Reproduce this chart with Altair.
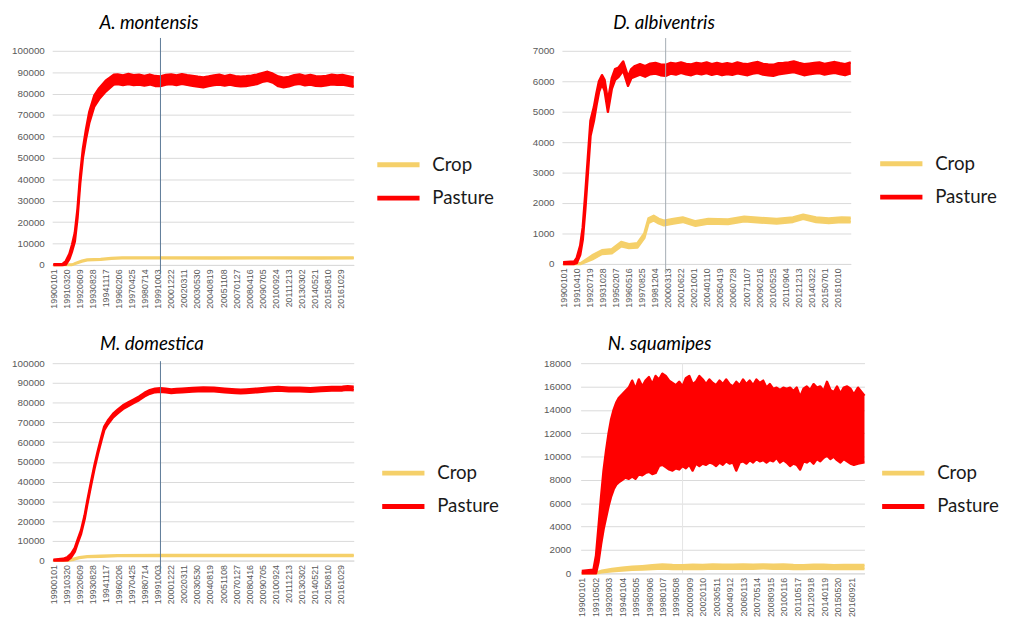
import altair as alt
import pandas as pd

RED = "#ff0000"
YELLOW = "#f5d06a"
SERIES = ["Crop", "Pasture"]
X_START = "1989-11-20"
X_END = "2018-01-20"
MARKER_DATE = "2000-01-01"

# ---------------- A. montensis ----------------
P1_TITLE = "A. montensis"
P1_TICKS = ["19900101", "19910320", "19920609", "19930828", "19941117", "19960206", "19970425",
            "19980714", "19991003", "20001222", "20020311", "20030530", "20040819", "20051108",
            "20070127", "20080416", "20090705", "20100924", "20111213", "20130302", "20140521",
            "20150810", "20161029"]
P1_YTICKS = [0, 10000, 20000, 30000, 40000, 50000, 60000, 70000, 80000, 90000, 100000]
P1_PAST_DATES = ["1990-01-01", "1990-11-01", "1991-03-01", "1991-07-01", "1991-10-01", "1992-01-01",
                 "1992-04-01", "1992-07-01", "1992-10-01", "1993-01-15", "1993-05-10", "1993-10-24",
                 "1994-04-09", "1994-11-19", "1995-08-25", "1996-01-01", "1996-07-01", "1997-01-01",
                 "1997-07-01", "1998-01-01", "1998-07-01", "1999-01-01", "1999-07-01", "2000-01-01",
                 "2000-07-01", "2001-01-01", "2001-07-01", "2002-01-01", "2002-07-01", "2003-01-01",
                 "2003-07-01", "2004-01-01", "2004-07-01", "2005-01-01", "2005-07-01", "2006-01-01",
                 "2006-07-01", "2007-01-01", "2007-07-01", "2008-01-01", "2008-07-01", "2009-01-01",
                 "2009-07-01", "2010-01-01", "2010-07-01", "2011-01-01", "2011-07-01", "2012-01-01",
                 "2012-07-01", "2013-01-01", "2013-07-01", "2014-01-01", "2014-07-01", "2015-01-01",
                 "2015-07-01", "2016-01-01", "2016-07-01", "2017-01-01", "2017-07-01", "2018-01-20"]
P1_PAST_LO = [0, 0, 200, 2800, 6500, 11000, 22000, 38000, 50000, 58800, 66500, 74000, 77500, 81000,
              84300, 84500, 84000, 84500, 84000, 84200, 83800, 84300, 83600, 83500, 84200, 84500,
              84000, 84600, 84100, 83700, 83300, 83000, 83600, 84000, 84300, 83800, 84200, 83700,
              83400, 83600, 84000, 84500, 85500, 86000, 85200, 83500, 83000, 83400, 84200, 84600,
              83900, 84300, 83700, 83500, 83900, 84400, 84100, 84300, 83800, 83200]
P1_PAST_HI = [300, 400, 1800, 5200, 9500, 15000, 26000, 42000, 54000, 63200, 71500, 79000, 82500,
              86000, 88800, 89000, 88500, 89200, 88600, 88800, 88300, 88900, 88200, 88000, 88700,
              89000, 88500, 89100, 88600, 88300, 87900, 87600, 88000, 88500, 88800, 88200, 88700,
              88100, 87900, 88100, 88400, 88900, 89600, 90200, 89300, 88000, 87400, 87800, 88600,
              89000, 88300, 88700, 88100, 88000, 88300, 88800, 88500, 88700, 88200, 87600]
P1_CROP_DATES = ["1990-01-01", "1991-10-01", "1992-03-01", "1992-09-01", "1993-03-01", "1994-06-01",
                 "1995-06-01", "1996-06-01", "2000-01-01", "2005-01-01", "2010-01-01", "2015-01-01",
                 "2018-01-20"]
P1_CROP_LO = [0, 0, 700, 1600, 2200, 2400, 2900, 3100, 3100, 3050, 3100, 3050, 3100]
P1_CROP_HI = [0, 200, 1100, 2000, 2600, 2800, 3300, 3500, 3500, 3450, 3500, 3450, 3500]
P1_MARKER = [-4500, 106000]

# ---------------- D. albiventris ----------------
P2_TITLE = "D. albiventris"
P2_TICKS = ["19900101", "19910410", "19920719", "19931028", "19950207", "19960516", "19970825",
            "19981204", "20000313", "20010622", "20021001", "20040110", "20050419", "20060728",
            "20071107", "20090216", "20100525", "20110904", "20121213", "20140322", "20150701",
            "20161010"]
P2_YTICKS = [0, 1000, 2000, 3000, 4000, 5000, 6000, 7000]
P2_PAST_DATES = ["1990-01-01", "1991-02-01", "1991-05-01", "1991-09-01", "1991-12-01", "1992-03-01",
                 "1992-06-01", "1992-09-01", "1993-01-01", "1993-04-01", "1993-07-01", "1993-10-15",
                 "1994-01-15", "1994-05-15", "1994-10-01", "1995-01-25", "1995-06-01", "1995-11-10",
                 "1996-05-01", "1996-08-25", "1997-01-01", "1997-07-01", "1998-01-01", "1998-07-01",
                 "1999-01-01", "1999-07-01", "2000-01-01", "2000-07-01", "2001-01-01", "2001-07-01",
                 "2002-01-01", "2002-07-01", "2003-01-01", "2003-07-01", "2004-01-01", "2004-07-01",
                 "2005-01-01", "2005-07-01", "2006-01-01", "2006-07-01", "2007-01-01", "2007-07-01",
                 "2008-01-01", "2008-07-01", "2009-01-01", "2009-07-01", "2010-01-01", "2010-07-01",
                 "2011-01-01", "2011-07-01", "2012-01-01", "2012-07-01", "2013-01-01", "2013-07-01",
                 "2014-01-01", "2014-07-01", "2015-01-01", "2015-07-01", "2016-01-01", "2016-07-01",
                 "2017-01-01", "2017-07-01", "2018-01-20"]
P2_PAST_LO = [0, 0, 30, 300, 800, 1800, 3000, 4200, 4700, 5200, 5650, 5900, 5700, 5000, 5750, 6050,
              6150, 6350, 5850, 6100, 6150, 6220, 6150, 6230, 6250, 6200, 6180, 6250, 6220, 6280,
              6230, 6200, 6260, 6230, 6270, 6210, 6250, 6200, 6240, 6210, 6260, 6230, 6200, 6250,
              6280, 6220, 6200, 6180, 6230, 6250, 6280, 6300, 6250, 6200, 6230, 6250, 6270, 6220,
              6250, 6280, 6240, 6200, 6260]
P2_PAST_HI = [60, 80, 200, 600, 1200, 2300, 3500, 4700, 5150, 5600, 6000, 6200, 6050, 5350, 6100,
              6400, 6450, 6650, 6150, 6400, 6500, 6560, 6500, 6580, 6600, 6550, 6540, 6600, 6580,
              6620, 6570, 6550, 6600, 6580, 6620, 6560, 6600, 6560, 6590, 6560, 6620, 6580, 6560,
              6600, 6630, 6570, 6550, 6540, 6590, 6600, 6620, 6650, 6600, 6560, 6580, 6600, 6620,
              6570, 6600, 6630, 6590, 6560, 6620]
P2_CROP_DATES = ["1990-01-01", "1991-09-28", "1992-11-01", "1993-10-15", "1994-10-01", "1995-09-01",
                 "1996-06-01", "1997-04-01", "1997-12-01", "1998-05-01", "1998-11-01", "1999-05-01",
                 "1999-11-01", "2000-10-01", "2001-09-01", "2002-12-01", "2004-03-01", "2006-02-01",
                 "2007-09-01", "2009-04-01", "2010-11-01", "2012-06-01", "2013-06-01", "2014-09-01",
                 "2015-12-01", "2017-03-01", "2018-01-20"]
P2_CROP_LO = [0, 0, 150, 330, 350, 580, 520, 540, 850, 1350, 1430, 1330, 1270, 1330, 1380, 1250, 1330,
              1310, 1400, 1360, 1330, 1380, 1480, 1380, 1340, 1380, 1370]
P2_CROP_HI = [0, 30, 280, 450, 480, 720, 650, 680, 1000, 1500, 1580, 1480, 1420, 1480, 1530, 1400,
              1480, 1460, 1550, 1510, 1480, 1530, 1620, 1530, 1490, 1530, 1520]
P2_MARKER = [-330, 7420]

# ---------------- M. domestica ----------------
P3_TITLE = "M. domestica"
P3_TICKS = P1_TICKS
P3_YTICKS = P1_YTICKS
P3_PAST_DATES = ["1990-01-01", "1990-12-01", "1991-05-01", "1991-09-01", "1992-01-01", "1992-04-01",
                 "1992-08-01", "1992-12-01", "1993-03-01", "1993-07-01", "1993-11-01", "1994-03-01",
                 "1994-07-01", "1994-10-01", "1995-02-01", "1995-08-01", "1996-01-01", "1996-07-01",
                 "1997-01-01", "1997-07-01", "1998-01-01", "1998-07-01", "1999-01-01", "1999-07-01",
                 "2000-01-01", "2000-07-01", "2001-01-01", "2001-07-01", "2002-01-01", "2003-01-01",
                 "2004-01-01", "2005-01-01", "2006-01-01", "2007-01-01", "2007-07-01", "2008-01-01",
                 "2009-01-01", "2010-01-01", "2011-01-01", "2012-01-01", "2013-01-01", "2014-01-01",
                 "2015-01-01", "2016-01-01", "2017-01-01", "2017-07-01", "2018-01-20"]
P3_PAST_LO = [0, 0, 200, 1700, 4600, 8600, 13600, 21100, 28400, 37600, 46500, 54100, 61100, 66100,
              69100, 72600, 74600, 76800, 78300, 79800, 81300, 83100, 84500, 85300, 85500, 85200,
              84900, 85100, 85300, 85600, 85900, 85700, 85300, 84900, 84700, 84900, 85300, 85800,
              86100, 85800, 85700, 85500, 85900, 86100, 86200, 86500, 86300]
P3_PAST_HI = [400, 900, 1800, 3500, 6400, 10400, 15400, 22900, 30200, 39400, 48300, 55900, 62900,
              67900, 70900, 74400, 76400, 78600, 80100, 81600, 83100, 84900, 86300, 87100, 87300,
              87000, 86700, 86900, 87100, 87400, 87700, 87500, 87100, 86700, 86500, 86700, 87100,
              87600, 87900, 87600, 87500, 87300, 87700, 87900, 88000, 88300, 88100]
P3_CROP_DATES = ["1990-01-01", "1991-06-01", "1991-12-01", "1992-06-01", "1993-03-01", "1994-06-01",
                 "1996-01-01", "2000-01-01", "2005-01-01", "2010-01-01", "2015-01-01", "2018-01-20"]
P3_CROP_LO = [0, 0, 450, 1250, 1750, 1950, 2250, 2350, 2350, 2300, 2350, 2350]
P3_CROP_HI = [0, 150, 950, 1750, 2250, 2450, 2750, 2850, 2850, 2800, 2850, 2850]
P3_MARKER = [-6000, 101000]

# ---------------- N. squamipes ----------------
P4_TITLE = "N. squamipes"
P4_TICKS = ["19900101", "19910502", "19920903", "19940104", "19950505", "19960906", "19980107",
            "19990508", "20000909", "20020110", "20030511", "20040912", "20060113", "20070514",
            "20080915", "20100116", "20110517", "20120918", "20140119", "20150520", "20160921"]
P4_YTICKS = [0, 2000, 4000, 6000, 8000, 10000, 12000, 14000, 16000, 18000]
P4_PAST_DATES = ["1990-01-01", "1991-03-01", "1991-06-01", "1991-09-01", "1991-12-01", "1992-03-01",
                 "1992-06-01", "1992-09-01", "1992-12-01", "1993-03-01", "1993-06-01", "1993-09-01",
                 "1994-01-01", "1994-05-01", "1994-09-01", "1995-01-01", "1995-05-01", "1995-09-01",
                 "1996-01-01", "1996-05-01", "1996-09-01", "1997-01-01", "1997-05-01", "1997-09-01",
                 "1998-01-01", "1998-05-01", "1998-09-01", "1999-01-01", "1999-05-01", "1999-09-01",
                 "2000-01-01", "2000-05-01", "2000-09-01", "2001-01-01", "2001-05-01", "2001-09-01",
                 "2002-01-01", "2002-05-01", "2002-09-01", "2003-01-01", "2003-05-01", "2003-09-01",
                 "2004-01-01", "2004-05-01", "2004-09-01", "2005-01-01", "2005-05-01", "2005-09-01",
                 "2006-01-01", "2006-05-01", "2006-09-01", "2007-01-01", "2007-05-01", "2007-09-01",
                 "2008-01-01", "2008-05-01", "2008-09-01", "2009-01-01", "2009-05-01", "2009-09-01",
                 "2010-01-01", "2010-05-01", "2010-09-01", "2011-01-01", "2011-05-01", "2011-09-01",
                 "2012-01-01", "2012-05-01", "2012-09-01", "2013-01-01", "2013-05-01", "2013-09-01",
                 "2014-01-01", "2014-05-01", "2014-09-01", "2015-01-01", "2015-05-01", "2015-09-01",
                 "2016-01-01", "2016-05-01", "2016-09-01", "2017-01-01", "2017-06-01", "2018-01-20"]
P4_PAST_LO = [0, 0, 0, 1000, 2500, 3800, 4800, 5800, 6600, 7200, 7600, 7800, 8000, 8200, 8100, 8300,
              8100, 8500, 8400, 8600, 8700, 8500, 8600, 9200, 9300, 9100, 8900, 8800, 9000, 8900,
              9200, 9000, 9300, 8800, 9400, 9200, 9400, 9300, 9500, 9400, 9200, 9500, 9300, 9600,
              9400, 9500, 8800, 9500, 9600, 9400, 9700, 9500, 9800, 9600, 9700, 9500, 9700, 9600,
              9900, 9500, 9700, 9500, 9200, 9400, 9300, 8900, 9600, 9500, 9700, 9400, 9800, 9600,
              9900, 10100, 9800, 10000, 9700, 9500, 9800, 9600, 9400, 9300, 9400, 9500]
P4_PAST_HI = [200, 300, 1500, 4000, 6500, 8800, 10500, 12000, 13200, 14000, 14600, 15000, 15300,
              15600, 15900, 16500, 15800, 16600, 16000, 16500, 16800, 16200, 16900, 16600, 17100,
              16900, 16500, 16300, 16100, 16400, 16000, 16700, 16900, 16200, 16400, 16900, 16600,
              16200, 16600, 16300, 16100, 16500, 16200, 16600, 16200, 16000, 16400, 16100, 16600,
              16200, 16500, 16100, 16600, 16300, 16500, 15900, 16200, 15800, 15900, 15700, 15900,
              15800, 15900, 15600, 15900, 15100, 15800, 16000, 15700, 16200, 15900, 16000, 15600,
              16400, 15700, 15500, 16000, 15400, 15900, 16000, 15800, 15300, 15900, 15200]
P4_CROP_DATES = ["1990-01-01", "1991-06-01", "1992-01-01", "1993-01-01", "1994-01-01", "1995-01-01",
                 "1996-01-01", "1997-01-01", "1998-01-01", "1999-01-01", "2000-01-01", "2001-01-01",
                 "2002-01-01", "2003-01-01", "2004-01-01", "2005-01-01", "2006-01-01", "2007-01-01",
                 "2008-01-01", "2009-01-01", "2010-01-01", "2011-01-01", "2012-01-01", "2013-01-01",
                 "2014-01-01", "2015-01-01", "2016-01-01", "2018-01-20"]
P4_CROP_LO = [0, 0, 100, 180, 250, 300, 330, 370, 420, 380, 360, 400, 380, 410, 390, 400, 420, 390,
              430, 400, 420, 380, 360, 400, 390, 360, 380, 370]
P4_CROP_HI = [0, 50, 220, 380, 480, 560, 620, 690, 760, 720, 700, 740, 720, 750, 730, 740, 760,
              730, 770, 740, 760, 720, 700, 740, 730, 700, 720, 710]
P4_MARKER = [0, 18000]


def ms(s, fmt=None):
    return int(pd.to_datetime(s, format=fmt).value // 10**6)


def panel(title, ticks, yticks, past_d, past_lo, past_hi, crop_d, crop_lo, crop_hi, marker,
          marker_color, marker_on_top, width, height, ypad, title_dx, title_offset, leg_x, leg_y):
    rows = []
    for d, lo, hi in zip(crop_d, crop_lo, crop_hi):
        rows.append({"t": ms(d), "lo": lo, "hi": hi, "series": "Crop"})
    for d, lo, hi in zip(past_d, past_lo, past_hi):
        rows.append({"t": ms(d), "lo": lo, "hi": hi, "series": "Pasture"})
    df = pd.DataFrame(rows)
    rule_df = pd.DataFrame({"t": [ms(MARKER_DATE)], "lo": [marker[0]], "hi": [marker[1]]})

    x = alt.X("t:Q",
              scale=alt.Scale(domain=[ms(X_START), ms(X_END)], nice=False, zero=False),
              axis=alt.Axis(values=[ms(v, "%Y%m%d") for v in ticks],
                            labelExpr="utcFormat(datum.value, '%Y%m%d')",
                            labelAngle=-90, labelFont="Liberation Sans", labelFontSize=9,
                            labelColor="#595959", labelPadding=4, ticks=False, grid=False,
                            domain=True, domainColor="#d9d9d9", title=None,
                            labelOverlap=False, labelBound=False, labelFlush=False))

    def yenc(field):
        return alt.Y(field,
                     scale=alt.Scale(domain=[0, yticks[-1]], nice=False, zero=True),
                     axis=alt.Axis(values=yticks, format="d", labelFont="Liberation Sans",
                                   labelFontSize=10, labelColor="#595959", labelPadding=ypad,
                                   ticks=False, domain=False, grid=True, gridColor="#d9d9d9",
                                   title=None))
    y_lo = yenc("lo:Q")
    y_hi = yenc("hi:Q")
    sc = alt.Scale(domain=SERIES, range=[YELLOW, RED])
    legend = alt.Legend(title=None, orient="none", legendX=leg_x, legendY=leg_y,
                        symbolType="stroke", symbolSize=1850, symbolStrokeWidth=5,
                        labelFont="Lato", labelFontSize=19, labelColor="#1a1a1a",
                        labelOffset=10, rowPadding=14, clipHeight=20)
    color = alt.Color("series:N", scale=sc, legend=legend)
    base = alt.Chart(df)
    rule = alt.Chart(rule_df).mark_rule(color=marker_color, strokeWidth=1).encode(
        x=x, y=y_lo, y2="hi:Q")
    layers = [] if marker_on_top else [rule]
    for name, col in zip(SERIES, [YELLOW, RED]):
        sub = base.transform_filter(alt.datum.series == name)
        layers.append(sub.mark_area(color=col, opacity=1).encode(x=x, y=y_lo, y2="hi:Q"))
        layers.append(sub.mark_line(strokeWidth=2.5, strokeJoin="round").encode(
            x=x, y=y_hi, color=color))
        layers.append(sub.mark_line(strokeWidth=2.5, strokeJoin="round").encode(
            x=x, y=y_lo, color=color))
    if marker_on_top:
        layers.append(rule)
    return alt.layer(*layers).properties(
        width=width, height=height,
        title=alt.TitleParams(title, font="Lato", fontSize=19, fontStyle="italic",
                              fontWeight="normal", color="#000000", anchor="middle",
                              dx=title_dx, offset=title_offset))


p1 = panel(P1_TITLE, P1_TICKS, P1_YTICKS, P1_PAST_DATES, P1_PAST_LO, P1_PAST_HI,
           P1_CROP_DATES, P1_CROP_LO, P1_CROP_HI, P1_MARKER, "#5a7896", True,
           307, 218, 8, -55, 5, 328, 106)
p2 = panel(P2_TITLE, P2_TICKS, P2_YTICKS, P2_PAST_DATES, P2_PAST_LO, P2_PAST_HI,
           P2_CROP_DATES, P2_CROP_LO, P2_CROP_HI, P2_MARKER, "#a3abb3", True,
           294, 217, 8, -43, 5, 321, 105)
p3 = panel(P3_TITLE, P3_TICKS, P3_YTICKS, P3_PAST_DATES, P3_PAST_LO, P3_PAST_HI,
           P3_CROP_DATES, P3_CROP_LO, P3_CROP_HI, P3_MARKER, "#5a7896", True,
           307, 201, 8, -52, 4, 333, 102)
p4 = panel(P4_TITLE, P4_TICKS, P4_YTICKS, P4_PAST_DATES, P4_PAST_LO, P4_PAST_HI,
           P4_CROP_DATES, P4_CROP_LO, P4_CROP_HI, P4_MARKER, "#e4e4e4", False,
           289, 214, 10, -64, 4, 304, 102)

res = dict(color="independent")
top = alt.hconcat(p1, p2, spacing=38).resolve_scale(**res)
bottom = alt.hconcat(p3, p4, spacing=45).resolve_scale(**res)
chart = alt.vconcat(top, bottom, spacing=27).resolve_scale(**res).properties(
    padding={"left": 3, "top": 0, "right": 2, "bottom": 2}
).configure_view(stroke=None)

chart.save("out.html", embed_options={"renderer": "svg", "actions": False})
